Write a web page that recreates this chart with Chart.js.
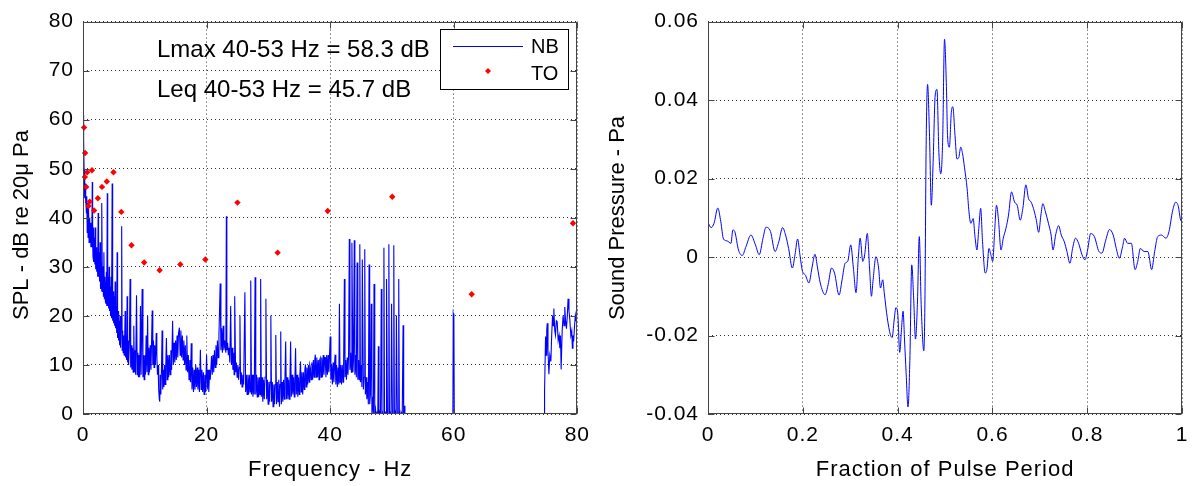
<!DOCTYPE html>
<html>
<head>
<meta charset="utf-8">
<title>Spectrum and pulse</title>
<script src="https://cdn.jsdelivr.net/npm/chart.js@4.4.0/dist/chart.umd.min.js"></script>
<style>
    html, body { margin: 0; padding: 0; background: #fff; }
    #wrap { position: relative; width: 1197px; height: 486px; overflow: hidden; }
    #leftBox { position: absolute; left: 0; top: 0; width: 598px; height: 486px; }
    #rightBox { position: absolute; left: 598px; top: 0; width: 599px; height: 486px; }
</style>
</head>
<body>
<div id="wrap">
    <div id="leftBox"><canvas id="spectrum" width="598" height="486"></canvas></div>
    <div id="rightBox"><canvas id="pulse" width="599" height="486"></canvas></div>
</div>
<script>
// Narrowband spectrum (NB)
const nbHz = [
    0, 0.05, 0.1, 0.15, 0.2, 0.25, 0.3, 0.35, 0.4, 0.48,
    0.55, 0.61, 0.68, 0.75, 0.82, 0.9, 0.98, 1.05, 1.12, 1.2,
    1.28, 1.35, 1.42, 1.5, 1.56, 1.62, 1.7, 1.78, 1.85, 1.92,
    2, 2.06, 2.14, 2.22, 2.3, 2.38, 2.45, 2.52, 2.6, 2.68,
    2.76, 2.84, 2.92, 3, 3.07, 3.14, 3.22, 3.3, 3.38, 3.46,
    3.55, 3.62, 3.7, 3.78, 3.85, 3.93, 4, 4.08, 4.15, 4.23,
    4.3, 4.38, 4.46, 4.54, 4.62, 4.72, 4.8, 4.88, 4.96, 5.05,
    5.12, 5.2, 5.28, 5.36, 5.45, 5.52, 5.6, 5.68, 5.76, 5.85,
    5.93, 6, 6.08, 6.16, 6.26, 6.34, 6.42, 6.5, 6.58, 6.66,
    6.74, 6.82, 6.9, 6.98, 7.06, 7.14, 7.22, 7.3, 7.38, 7.5,
    7.62, 7.72, 7.82, 7.92, 8.02, 8.12, 8.22, 8.32, 8.42, 8.52,
    8.66, 8.78, 8.88, 8.98, 9.08, 9.18, 9.3, 9.4, 9.57, 9.7,
    9.8, 9.9, 10, 10.1, 10.22, 10.34, 10.46, 10.56, 10.66, 10.76,
    10.88, 11, 11.1, 11.2, 11.3, 11.4, 11.5, 11.6, 11.72, 11.85,
    11.95, 12.05, 12.15, 12.25, 12.35, 12.42, 12.5, 12.6, 12.7, 12.8,
    12.9, 13, 13.1, 13.2, 13.3, 13.4, 13.5, 13.62, 13.74, 13.86,
    13.98, 14.1, 14.22, 14.34, 14.5, 14.62, 14.74, 14.86, 14.98, 15.1,
    15.22, 15.34, 15.46, 15.6, 15.72, 15.84, 15.96, 16.08, 16.2, 16.32,
    16.44, 16.56, 16.68, 16.8, 16.92, 17.04, 17.16, 17.28, 17.4, 17.52,
    17.64, 17.76, 17.88, 18, 18.12, 18.24, 18.36, 18.48, 18.6, 18.72,
    18.84, 19, 19.12, 19.24, 19.36, 19.48, 19.6, 19.72, 19.84, 20,
    20.12, 20.24, 20.36, 20.48, 20.6, 20.8, 20.92, 21.04, 21.16, 21.28,
    21.4, 21.52, 21.64, 21.76, 21.88, 22, 22.2, 22.32, 22.44, 22.56,
    22.68, 22.8, 22.92, 23.12, 23.2, 23.28, 23.4, 23.52, 23.64, 23.76,
    23.9, 24.02, 24.14, 24.26, 24.38, 24.46, 24.55, 24.7, 24.82, 24.94,
    25.06, 25.18, 25.3, 25.4, 25.5, 25.62, 25.74, 25.86, 26, 26.2,
    26.32, 26.44, 26.56, 26.68, 26.8, 26.92, 27.04, 27.15, 27.26, 27.38,
    27.5, 27.62, 27.72, 27.85, 27.96, 28.08, 28.2, 28.32, 28.44, 28.56,
    28.65, 28.75, 28.86, 28.98, 29.1, 29.22, 29.34, 29.46, 29.6, 29.72,
    29.84, 29.96, 30.08, 30.2, 30.3, 30.4, 30.52, 30.64, 30.76, 30.88,
    31, 31.1, 31.2, 31.32, 31.44, 31.56, 31.68, 31.8, 31.9, 32,
    32.1, 32.22, 32.34, 32.46, 32.58, 32.68, 32.8, 32.92, 33.04, 33.16,
    33.28, 33.4, 33.5, 33.6, 33.72, 33.84, 33.96, 34.08, 34.2, 34.3,
    34.4, 34.52, 34.64, 34.76, 34.88, 35, 35.1, 35.2, 35.32, 35.44,
    35.56, 35.68, 35.8, 35.9, 36, 36.12, 36.24, 36.36, 36.48, 36.6,
    36.7, 36.8, 36.92, 37.04, 37.16, 37.28, 37.4, 37.5, 37.6, 37.72,
    37.84, 37.96, 38.08, 38.2, 38.3, 38.4, 38.52, 38.64, 38.76, 38.88,
    39, 39.1, 39.2, 39.32, 39.44, 39.56, 39.68, 39.8, 39.9, 40,
    40.12, 40.24, 40.36, 40.48, 40.6, 40.7, 40.8, 40.92, 41.04, 41.16,
    41.28, 41.4, 41.5, 41.6, 41.72, 41.84, 41.96, 42.08, 42.18, 42.3,
    42.4, 42.52, 42.64, 42.76, 42.88, 42.98, 43.1, 43.2, 43.32, 43.44,
    43.52, 43.68, 43.78, 43.9, 44, 44.12, 44.24, 44.36, 44.48, 44.6,
    44.7, 44.8, 44.9, 45.02, 45.14, 45.2, 45.38, 45.48, 45.6, 45.7,
    45.82, 45.94, 46.06, 46.18, 46.3, 46.4, 46.52, 46.66, 46.76, 46.88,
    47, 47.1, 47.22, 47.34, 47.46, 47.58, 47.7, 47.8, 47.9, 48.02,
    48.14, 48.28, 48.38, 48.5, 48.6, 48.7, 48.8, 48.92, 49.04, 49.12,
    49.28, 49.4, 49.5, 49.6, 49.72, 49.84, 49.94, 50.08, 50.18, 50.3,
    50.4, 50.52, 50.64, 50.72, 50.88, 51, 51.1, 51.2, 51.32, 51.44,
    51.56, 51.66, 51.8, 51.9, 52, 52.1, 59.85, 59.92, 60.02, 60.1,
    74.6, 74.65, 74.7, 74.86, 74.95, 75.05, 75.13, 75.25, 75.4, 75.55,
    75.72, 75.85, 75.99, 76.1, 76.2, 76.35, 76.47, 76.6, 76.74, 76.9,
    77.05, 77.17, 77.28, 77.38, 77.55, 77.7, 77.85, 77.97, 78.1, 78.24,
    78.38, 78.5, 78.65, 78.77, 78.95, 79.1, 79.2, 79.3, 79.41, 79.55,
    79.68, 79.8, 79.9, 80
];
const nbDb = [
    61, 58, 52, 56, 48, 50, 44, 47, 43, 44,
    41, 44.4, 37, 43, 36, 42, 35, 40, 35, 39,
    34, 38, 34, 47.3, 35, 32, 38, 31, 36, 30.5,
    38, 29.5, 34, 29, 33, 28, 41, 28, 33, 27,
    35, 25.5, 31, 25, 43, 25, 30, 24, 33, 23.5,
    28, 23, 22.5, 29, 22, 45, 22, 28, 21.5, 30,
    21, 26, 20, 28, 19.5, 47, 19, 25, 18.5, 24,
    18, 27, 17.5, 22, 16.5, 33, 15.5, 21, 15, 19,
    14, 20, 13.5, 18, 38.3, 13, 17, 12.5, 16, 12,
    15, 21, 11.5, 16, 11, 24, 10.5, 15, 10, 14,
    27.5, 9.5, 14, 9, 13.5, 8.5, 18, 8.5, 13, 8,
    24.2, 8, 12.5, 7.5, 12, 7.5, 22, 8, 25.5, 7.5,
    12, 7, 12, 8, 16, 8.5, 20, 8, 13.5, 8.5,
    14, 9, 15, 21.1, 10, 15, 9.5, 14, 10, 16.5,
    12, 8, 10, 5, 3, 2.5, 8, 4, 9, 17,
    5, 9, 5.5, 10, 6, 10, 15.5, 7, 12, 7.5,
    12, 8, 13, 9, 19, 10, 14.5, 10.5, 15, 11,
    16, 11.5, 16.5, 17.6, 12, 17, 11.5, 16, 11, 15,
    10, 14, 9, 16, 8.5, 12, 7, 11, 6.5, 14.4,
    5, 9.5, 4.5, 9, 5, 10, 5.5, 9.5, 5, 9,
    4.5, 13.1, 5, 9, 4.5, 8.5, 4, 8, 4.5, 12.1,
    5, 9, 4.5, 9, 7, 11.8, 8, 12, 8.5, 13,
    9.5, 14, 10, 15, 11.5, 16, 26.6, 13, 17.5, 12.5,
    18, 13, 15, 12.5, 40.3, 13, 14.5, 12, 13.5, 10.5,
    22, 10, 13.5, 9, 12.5, 8, 24, 8.5, 10.5, 7.5,
    10, 7, 9.5, 20.1, 6, 8.5, 5.5, 8, 6, 24.8,
    4.5, 8, 4, 8, 4, 8, 4.5, 27.2, 4, 8,
    3.5, 8, 4, 27.9, 4, 8, 3.5, 7.5, 3.5, 7.5,
    4, 27.5, 3.5, 7.5, 2.5, 7, 3, 7.5, 23.5, 3,
    7, 2, 6.5, 2.5, 6.5, 20.1, 2.5, 6.5, 1.5, 6,
    2, 6, 16.1, 2, 6.5, 2.5, 7, 1.5, 6, 16.8,
    2, 6.5, 2.5, 7, 3, 7, 14.8, 3, 7.5, 3,
    7, 3, 7.5, 14.8, 3.5, 8, 4, 7.5, 3.5, 7.5,
    13.4, 4, 8, 3.5, 7.5, 4, 8, 10.7, 4.5, 8.5,
    4, 8.5, 5, 9, 10.1, 5.5, 9.5, 6, 10, 6.5,
    10, 9.4, 7, 10.5, 7, 11, 7.5, 11, 12.1, 7.5,
    11.5, 7.5, 11, 7, 11, 11.4, 7.5, 11.5, 7.5, 12,
    8, 11.5, 11.5, 7.5, 12, 8, 12, 8.5, 12, 15.8,
    7, 10, 6, 10.5, 6.5, 10, 12.1, 6, 10, 5.5,
    9.5, 6, 22.5, 6.5, 10, 6, 10, 6.5, 10.5, 27.5,
    7.5, 11, 7, 11.5, 8, 12, 35.7, 9, 12.5, 8.5,
    34.9, 8.5, 11, 35.4, 8, 12, 7.5, 30.9, 7, 11,
    7, 34.6, 6.5, 10, 5.5, 31.5, 5, 7.5, 33.6, 4,
    7.5, 3, 6.5, 2, 30.5, 2, 4, 22.5, 0, 3.5,
    0, 26.5, 0, 1, -1, 0.5, -1, 13.8, -1, 0,
    -2, 25.5, -1, 0, -1, 33.9, -1, 0.5, -2, 27.5,
    -1, 0, 34.6, -1, 0.5, -2, 22.5, -1, 0, 34.4,
    -1, 0, -2, 20.1, -1, 0, 27.5, -1, 0, -2,
    0.5, -1, 18.1, -1, 1.7, -5, -5, 20.5, 20, -5,
    -5, 0, 4.7, 15.8, 12, 17, 18.5, 13, 8.1, 12,
    10.7, 16, 20.1, 18, 21.5, 17, 16.1, 19, 18.8, 15,
    16, 13.4, 16, 9.1, 17, 20.1, 18, 21.8, 19, 17.4,
    20, 23.5, 21, 19.5, 16, 17, 13.4, 16, 14.8, 18,
    20.1, 19, 22.1, 20.1
];

// Third-octave band levels (TO)
const toHz = [0.17, 0.34, 0.3, 0.67, 1.45, 0.52, 1.08, 0.89, 1.8, 2.4, 3.07, 3.85, 4.93,
    6.2, 7.85, 9.9, 12.4, 15.75, 19.8, 25, 31.5, 39.6, 50.05, 62.9, 79.3];
const toDb = [58.4, 53.2, 48.3, 49.3, 49.7, 46.3, 43.3, 42.4, 41.5, 44, 46.3, 47.4, 49.3,
    41.2, 34.4, 30.9, 29.3, 30.5, 31.5, 43.1, 32.9, 41.4, 44.3, 24.4, 38.9];

// Pressure over one pulse period
const pulseFrac = [
    0, 0.0064, 0.0127, 0.0207, 0.027, 0.0326, 0.0405, 0.0485, 0.0524, 0.0564,
    0.0643, 0.0723, 0.0802, 0.0905, 0.1001, 0.108, 0.116, 0.1223, 0.1318, 0.1414,
    0.1493, 0.1573, 0.1636, 0.17, 0.1779, 0.1835, 0.189, 0.1938, 0.1994, 0.2049,
    0.2129, 0.2192, 0.2256, 0.2311, 0.2367, 0.247, 0.2534, 0.2605, 0.2669, 0.2764,
    0.2828, 0.2891, 0.2947, 0.301, 0.3066, 0.3122, 0.3169, 0.3209, 0.3264, 0.3304,
    0.336, 0.3407, 0.3447, 0.3479, 0.3542, 0.3598, 0.3638, 0.3685, 0.3717, 0.3781,
    0.3844, 0.3884, 0.3924, 0.3963, 0.4003, 0.4043, 0.4083, 0.4114, 0.4146, 0.4178,
    0.4218, 0.4257, 0.4297, 0.4337, 0.4376, 0.4416, 0.4456, 0.4496, 0.4551, 0.4575,
    0.4599, 0.4631, 0.467, 0.471, 0.475, 0.479, 0.4829, 0.4869, 0.4909, 0.4948,
    0.4988, 0.5028, 0.5052, 0.5091, 0.5131, 0.5163, 0.521, 0.525, 0.529, 0.533,
    0.5369, 0.5409, 0.5465, 0.5504, 0.5544, 0.5592, 0.5631, 0.5671, 0.5711, 0.5751,
    0.579, 0.5846, 0.5886, 0.5925, 0.5965, 0.6005, 0.6045, 0.6084, 0.6124, 0.618,
    0.6227, 0.6283, 0.6338, 0.6402, 0.6465, 0.6521, 0.6585, 0.664, 0.6704, 0.6759,
    0.6815, 0.6863, 0.6918, 0.6974, 0.7021, 0.7061, 0.7117, 0.718, 0.7236, 0.7276,
    0.7331, 0.7395, 0.745, 0.7514, 0.757, 0.7633, 0.7689, 0.7752, 0.7816, 0.7887,
    0.7951, 0.8006, 0.807, 0.8149, 0.8245, 0.8308, 0.8388, 0.8467, 0.8546, 0.861,
    0.8674, 0.8745, 0.8785, 0.8848, 0.8928, 0.9007, 0.9063, 0.9118, 0.9198, 0.9277,
    0.9357, 0.942, 0.9484, 0.9563, 0.9658, 0.9722, 0.9801, 0.9865, 0.9921, 0.996,
    1
];
const pulsePa = [
    0.0088, 0.0075, 0.0086, 0.0125, 0.009, 0.0046, 0.0041, 0.0035, 0.0069, 0.0065,
    0.0018, 0.0004, 0.0027, 0.0056, 0.0031, 0.0006, 0.0048, 0.0076, 0.0065, 0.0014,
    0.0039, 0.0075, 0.0056, 0.0022, -0.0028, 0.0006, 0.0046, 0.0006, -0.0037, -0.0045,
    -0.0066, -0.0028, 0.0007, -0.0028, -0.0066, -0.0096, -0.007, -0.0028, -0.0041, -0.0097,
    -0.0058, -0.0016, -0.0011, 0.0031, -0.0028, -0.0091, -0.0003, 0.0048, -0.0011, 0.0006,
    0.006, -0.0028, -0.01, -0.0062, 0.0001, -0.0028, -0.0079, -0.0058, -0.0091, -0.0155,
    -0.0197, -0.0205, -0.0163, -0.0129, -0.0146, -0.0243, -0.018, -0.0138, -0.0214, -0.0294,
    -0.0382, -0.0264, -0.002, -0.0104, -0.0209, -0.0121, 0.0052, -0.0121, -0.0239, -0.0112,
    0.0267, 0.044, 0.0317, 0.0132, 0.025, 0.041, 0.0427, 0.0267, 0.0212, 0.0292,
    0.0555, 0.0435, 0.0309, 0.028, 0.0368, 0.0383, 0.0309, 0.025, 0.0254, 0.028,
    0.0263, 0.0229, 0.0174, 0.0115, 0.0086, 0.0098, 0.0052, 0.0018, 0.0073, 0.0124,
    0.0039, -0.0041, -0.0028, 0.0022, 0.0006, -0.0011, 0.0065, 0.0132, 0.0098, 0.0018,
    0.0048, 0.0073, 0.0107, 0.0166, 0.014, 0.0132, 0.0094, 0.0124, 0.0184, 0.0149,
    0.014, 0.0124, 0.0098, 0.0063, 0.0107, 0.0136, 0.0115, 0.0086, 0.0056, 0.0018,
    0.0056, 0.008, 0.0056, 0.0039, 0.0014, -0.0016, 0.0022, 0.0048, 0.0035, 0.0006,
    -0.0007, 0.0018, 0.006, 0.0052, 0.0014, 0.001, 0.0043, 0.007, 0.0056, 0.0022,
    -0.0003, 0.0027, 0.0048, 0.0035, 0.0035, -0.0032, -0.0011, 0.0022, 0.0014, 0.0014,
    -0.0032, 0.0014, 0.0052, 0.0056, 0.0048, 0.0065, 0.0119, 0.014, 0.0128, 0.0098,
    0.0088
];

const noteLines = ["Lmax 40-53 Hz = 58.3 dB", "Leq 40-53 Hz = 45.7 dB"];
const legendLabels = ["NB", "TO"];

const FONT = "'Liberation Sans', Arial, Helvetica, sans-serif";
const FRAME = "#444";
const BLUE = "#0000ff";
const RED = "#ff0000";

// the original's tick labels and x titles are set a little loose
const looseText = {
    id: "looseText",
    beforeDraw(chart) {
        chart.ctx.letterSpacing = "1px";
    }
};

// box, inward ticks on all four sides and the rotated y title, MATLAB style
const matlabFrame = {
    id: "matlabFrame",
    afterDatasetsDraw(chart, args, opts) {
        const { ctx, chartArea: a, scales } = chart;
        const L = Math.round(a.left) + 0.5, R = Math.round(a.right) - 0.5;
        const T = Math.round(a.top) + 0.5, B = Math.round(a.bottom) - 0.5;
        ctx.save();
        ctx.letterSpacing = "0px";
        ctx.strokeStyle = FRAME;
        ctx.lineWidth = 1;
        ctx.beginPath();
        scales.x.ticks.forEach(t => {
            const px = Math.round(scales.x.getPixelForValue(t.value)) + 0.5;
            ctx.moveTo(px, B); ctx.lineTo(px, B - 6);
            ctx.moveTo(px, T); ctx.lineTo(px, T + 6);
        });
        scales.y.ticks.forEach(t => {
            const py = Math.round(scales.y.getPixelForValue(t.value)) + 0.5;
            ctx.moveTo(L, py); ctx.lineTo(L + 6, py);
            ctx.moveTo(R, py); ctx.lineTo(R - 6, py);
        });
        ctx.stroke();
        ctx.strokeRect(L, T, R - L, B - T);

        ctx.translate(opts.titleX, opts.titleY);
        ctx.rotate(-Math.PI / 2);
        ctx.fillStyle = "#000";
        ctx.font = "22px " + FONT;
        ctx.textAlign = "center";
        ctx.textBaseline = "middle";
        ctx.fillText(opts.title, 0, 0);
        ctx.restore();
    }
};

// level notes and the boxed legend of the spectrum panel
const spectrumNotes = {
    id: "spectrumNotes",
    afterDraw(chart) {
        const ctx = chart.ctx;
        ctx.save();
        ctx.letterSpacing = "0px";
        ctx.fillStyle = "#000";
        ctx.font = "24px " + FONT;
        ctx.textAlign = "left";
        ctx.textBaseline = "alphabetic";
        ctx.fillText(noteLines[0], 157, 57);
        ctx.fillText(noteLines[1], 157, 97);

        ctx.fillStyle = "#fff";
        ctx.fillRect(441, 30, 128, 59);
        ctx.strokeStyle = "#000";
        ctx.lineWidth = 1;
        ctx.strokeRect(440.5, 29.5, 128, 60);

        ctx.strokeStyle = BLUE;
        ctx.beginPath();
        ctx.moveTo(453, 46.5);
        ctx.lineTo(523, 46.5);
        ctx.stroke();

        ctx.fillStyle = RED;
        ctx.beginPath();
        ctx.moveTo(488, 68); ctx.lineTo(491, 71); ctx.lineTo(488, 74); ctx.lineTo(485, 71);
        ctx.closePath();
        ctx.fill();

        ctx.fillStyle = "#000";
        ctx.font = "20px " + FONT;
        ctx.textBaseline = "middle";
        ctx.fillText(legendLabels[0], 531, 47);
        ctx.fillText(legendLabels[1], 531, 74);
        ctx.restore();
    }
};

function tickFont() {
    return { family: FONT, size: 21 };
}

function axisX(min, max, step, title, format) {
    return {
        type: "linear", min, max,
        afterFit: scale => { scale.height = 72; },
        ticks: { stepSize: step, color: "#000", font: tickFont(), padding: 9, maxRotation: 0, autoSkip: false,
                 callback: format },
        grid: { color: "#333", lineWidth: 1, drawTicks: false },
        border: { display: false, dash: [1, 3] },
        title: { display: true, text: title, color: "#000", font: { family: FONT, size: 22 },
                 padding: { top: 0, bottom: 3 } }
    };
}

function axisY(min, max, step, width, format) {
    return {
        type: "linear", min, max,
        afterFit: scale => { scale.width = width; },
        ticks: { stepSize: step, color: "#000", font: tickFont(), padding: 9, autoSkip: false,
                 callback: format },
        grid: { color: "#333", lineWidth: 1, drawTicks: false },
        border: { display: false, dash: [1, 3] }
    };
}

const plain = v => String(Number(v.toFixed(2)) || 0);

new Chart(document.getElementById("spectrum"), {
    type: "line",
    data: {
        datasets: [
            {
                label: "TO",
                data: toHz.map((f, i) => ({ x: f, y: toDb[i] })),
                showLine: false,
                pointStyle: "rectRot",
                pointRadius: 3.2,
                pointBackgroundColor: RED,
                pointBorderColor: RED,
                pointBorderWidth: 0,
                clip: false,
                order: 0
            },
            {
                label: "NB",
                data: nbHz.map((f, i) => ({ x: f, y: nbDb[i] })),
                borderColor: BLUE,
                borderWidth: 1.1,
                pointRadius: 0,
                tension: 0,
                order: 1
            }
        ]
    },
    options: {
        responsive: false,
        animation: false,
        events: [],
        layout: { padding: { top: 17, right: 17, left: 0, bottom: 0 } },
        scales: {
            x: axisX(0, 80, 20, "Frequency - Hz", plain),
            y: axisY(0, 80, 10, 83, plain)
        },
        plugins: {
            legend: { display: false },
            tooltip: { enabled: false },
            matlabFrame: { title: "SPL - dB re 20\u03bc Pa", titleX: 22, titleY: 225 }
        }
    },
    plugins: [looseText, matlabFrame, spectrumNotes]
});

new Chart(document.getElementById("pulse"), {
    type: "line",
    data: {
        datasets: [{
            label: "Pressure",
            data: pulseFrac.map((t, i) => ({ x: t, y: pulsePa[i] })),
            borderColor: BLUE,
            borderWidth: 1,
            pointRadius: 0,
            cubicInterpolationMode: "monotone"
        }]
    },
    options: {
        responsive: false,
        animation: false,
        events: [],
        layout: { padding: { top: 17, right: 10, left: 0, bottom: 0 } },
        scales: {
            x: axisX(0, 1, 0.2, "Fraction of Pulse Period", plain),
            y: axisY(-0.04, 0.06, 0.02, 110, plain)
        },
        plugins: {
            legend: { display: false },
            tooltip: { enabled: false },
            matlabFrame: { title: "Sound Pressure - Pa", titleX: 20, titleY: 218 }
        }
    },
    plugins: [looseText, matlabFrame]
});
</script>
</body>
</html>
